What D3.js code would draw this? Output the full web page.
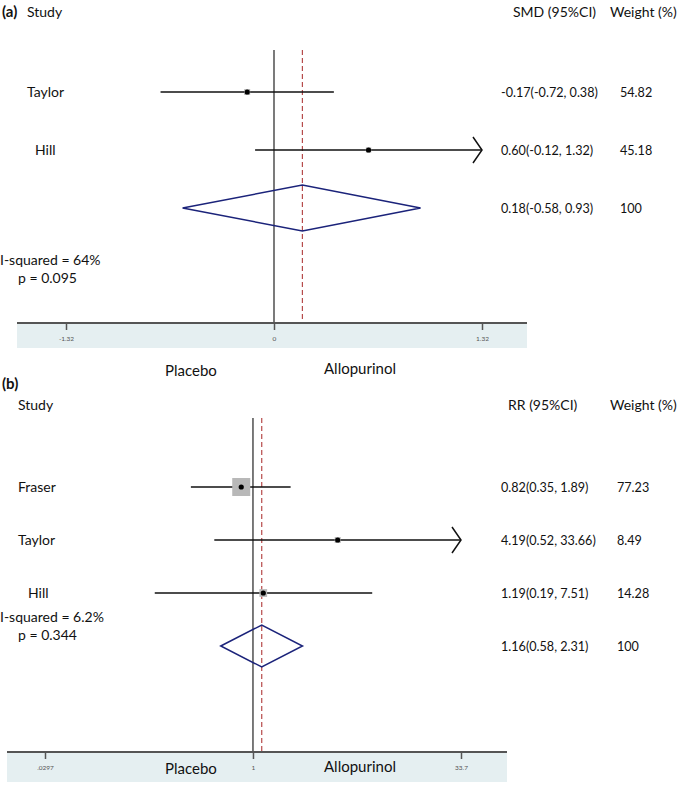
<!DOCTYPE html>
<html><head><meta charset="utf-8">
<script src="https://cdn.jsdelivr.net/npm/d3@7"></script>
<style>body{margin:0;background:#fff}svg{display:block}text{font-family:Lato,"Open Sans",sans-serif;fill:#111}</style>
</head><body>
<script>
// ---- Panel (a) data: SMD ----
const studiesA = ["Taylor", "Hill"];
const smdA = [-0.17, 0.60];
const lowA = [-0.72, -0.12];
const highA = [0.38, 1.32];
const weightA = [54.82, 45.18];
const ciTextA = ["-0.17(-0.72, 0.38)", "0.60(-0.12, 1.32)"];
const pooledA = [0.18, -0.58, 0.93];
const pooledTextA = "0.18(-0.58, 0.93)";
const hetA = ["I-squared = 64%", "p = 0.095"];
const ticksA = [-1.32, 0, 1.32];
const tickLabelsA = ["-1.32", "0", "1.32"];

// ---- Panel (b) data: RR ----
const studiesB = ["Fraser", "Taylor", "Hill"];
const rrB = [0.82, 4.19, 1.19];
const lowB = [0.35, 0.52, 0.19];
const highB = [1.89, 33.66, 7.51];
const weightB = [77.23, 8.49, 14.28];
const ciTextB = ["0.82(0.35, 1.89)", "4.19(0.52, 33.66)", "1.19(0.19, 7.51)"];
const pooledB = [1.16, 0.58, 2.31];
const pooledTextB = "1.16(0.58, 2.31)";
const hetB = ["I-squared = 6.2%", "p = 0.344"];
const ticksB = [0.0297, 1, 33.7];
const tickLabelsB = [".0297", "1", "33.7"];

const svg = d3.select("body").append("svg").attr("width", 685).attr("height", 787);

function panel(cfg) {
  const g = svg.append("g");
  const x = cfg.scale;
  const [dmin, dmax] = x.domain();
  g.append("rect").attr("x", cfg.axisX0).attr("y", cfg.axisY).attr("width", cfg.axisX1 - cfg.axisX0)
    .attr("height", cfg.bandH).attr("fill", "#e5eff1");
  g.append("text").attr("x", 2).attr("y", cfg.labelY).attr("font-weight", "bold").attr("font-size", 15).text(cfg.tag);
  g.append("text").attr("x", cfg.studyX).attr("y", cfg.headY).attr("font-size", 14).text("Study");
  g.append("text").attr("x", cfg.effHeadX).attr("y", cfg.headY).attr("font-size", 14).text(cfg.effHead);
  g.append("text").attr("x", 610).attr("y", cfg.headY).attr("font-size", 14).text("Weight (%)");

  const rowY = i => cfg.row0 + i * cfg.rowStep;
  const box = d3.scaleSqrt().domain([0, 100]).range([0, cfg.boxMax]);

  g.append("line").attr("x1", x(cfg.nullVal)).attr("x2", x(cfg.nullVal)).attr("y1", cfg.top).attr("y2", cfg.axisY)
    .attr("stroke", "#222").attr("stroke-width", 1.2);
  g.append("line").attr("x1", x(cfg.pooled[0])).attr("x2", x(cfg.pooled[0])).attr("y1", cfg.top).attr("y2", cfg.axisY)
    .attr("stroke", "#b03a3a").attr("stroke-width", 1.1).attr("stroke-dasharray", "5,3");

  cfg.studies.forEach((s, i) => {
    const y = rowY(i);
    const hi = Math.min(cfg.high[i], dmax);
    g.append("line").attr("x1", x(Math.max(cfg.low[i], dmin))).attr("x2", x(hi)).attr("y1", y).attr("y2", y)
      .attr("stroke", "#111").attr("stroke-width", 1.5);
    if (cfg.high[i] >= dmax * 0.995) {
      const tx = x(dmax);
      g.append("path").attr("d", `M${tx - 9},${y - 13}L${tx},${y}L${tx - 9},${y + 13}`)
        .attr("fill", "none").attr("stroke", "#111").attr("stroke-width", 1.5);
    }
    const b = box(cfg.weight[i]);
    g.append("rect").attr("x", x(cfg.est[i]) - b / 2).attr("y", y - b / 2).attr("width", b).attr("height", b)
      .attr("fill", "#b8b8b8");
    g.append("circle").attr("cx", x(cfg.est[i])).attr("cy", y).attr("r", 2.6).attr("fill", "#000");
    g.append("text").attr("x", cfg.studyXs[i]).attr("y", y + 5).attr("font-size", 14).text(s);
    g.append("text").attr("x", 501).attr("y", y + 5).attr("font-size", 12.6).text(cfg.ciText[i]);
    g.append("text").attr("x", cfg.wX).attr("y", y + 5).attr("font-size", 12.6).text(d3.format(".2f")(cfg.weight[i]));
  });
  const dy = rowY(cfg.studies.length);
  const [pe, pl, ph] = cfg.pooled;
  g.append("path").attr("d", `M${x(pl)},${dy}L${x(pe)},${dy - cfg.dh}L${x(ph)},${dy}L${x(pe)},${dy + cfg.dh}Z`)
    .attr("fill", "none").attr("stroke", "#1b237a").attr("stroke-width", 1.5);
  g.append("text").attr("x", 501).attr("y", dy + 5).attr("font-size", 12.6).text(cfg.pooledText);
  g.append("text").attr("x", cfg.wX).attr("y", dy + 5).attr("font-size", 12.6).text("100");
  g.append("text").attr("x", 0).attr("y", cfg.hetY).attr("font-size", 14).text(cfg.het[0]);
  g.append("text").attr("x", 18).attr("y", cfg.hetY + 18).attr("font-size", 14).text(cfg.het[1]);

  const axis = d3.axisBottom(x).tickValues(cfg.ticks).tickFormat((d, i) => cfg.tickLabels[i]).tickSize(7).tickPadding(6);
  const ax = g.append("g").attr("transform", `translate(0,${cfg.axisY})`).call(axis);
  ax.select(".domain").remove();
  ax.selectAll(".tick line").attr("stroke", "#555").attr("stroke-width", 1.5);
  ax.selectAll(".tick text").attr("font-size", 6.5).style("fill", "#555").attr("font-family", "Arial, sans-serif");
  g.append("line").attr("x1", cfg.axisX0).attr("x2", cfg.axisX1).attr("y1", cfg.axisY).attr("y2", cfg.axisY)
    .attr("stroke", "#555").attr("stroke-width", 2);
  g.append("text").attr("x", 165).attr("y", cfg.dirY).attr("font-size", 15).text("Placebo");
  g.append("text").attr("x", 324).attr("y", cfg.dirY - 2).attr("font-size", 15).text("Allopurinol");
}

panel({
  tag: "(a)", labelY: 17, headY: 17, studyX: 27, effHead: "SMD (95%CI)", effHeadX: 513,
  scale: d3.scaleLinear().domain([ticksA[0], ticksA[2]]).range([66, 482]),
  nullVal: 0, top: 50, axisY: 323, bandH: 25, axisX0: 17, axisX1: 527,
  studies: studiesA, studyXs: [27, 35], est: smdA, low: lowA, high: highA, weight: weightA,
  ciText: ciTextA, pooled: pooledA, pooledText: pooledTextA, het: hetA, hetY: 265,
  row0: 92, rowStep: 58, dh: 23, boxMax: 8, wX: 620,
  ticks: ticksA, tickLabels: tickLabelsA, dirY: 376
});

panel({
  tag: "(b)", labelY: 389, headY: 410, studyX: 18, effHead: "RR (95%CI)", effHeadX: 508,
  scale: d3.scaleLog().domain([ticksB[0], ticksB[2]]).range([45, 461]),
  nullVal: 1, top: 418, axisY: 752, bandH: 30, axisX0: 7, axisX1: 507,
  studies: studiesB, studyXs: [18, 18, 28], est: rrB, low: lowB, high: highB, weight: weightB,
  ciText: ciTextB, pooled: pooledB, pooledText: pooledTextB, het: hetB, hetY: 622,
  row0: 487, rowStep: 53, dh: 21, boxMax: 20.5, wX: 617,
  ticks: ticksB, tickLabels: tickLabelsB, dirY: 774
});
</script>
</body></html>
